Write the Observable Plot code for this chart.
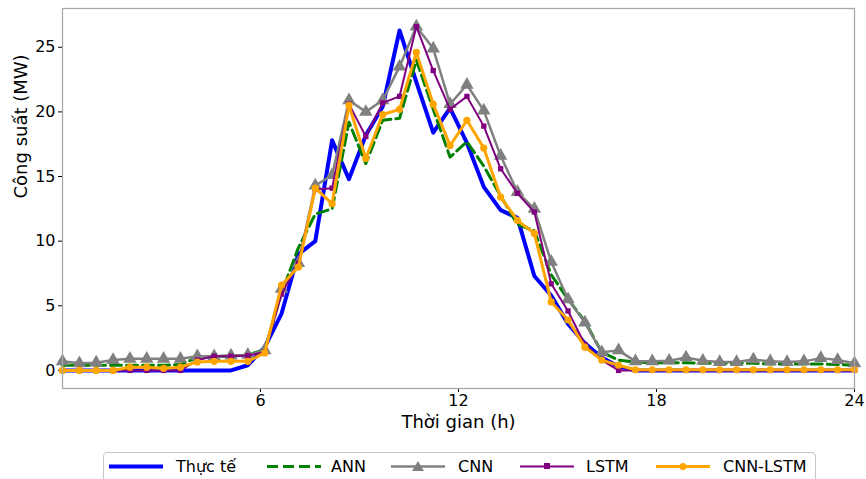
<!DOCTYPE html>
<html><head><meta charset="utf-8">
<script src="https://cdn.jsdelivr.net/npm/d3@7"></script>
<script src="https://cdn.jsdelivr.net/npm/@observablehq/plot@0.6"></script>
<style>
html,body{margin:0;padding:0;background:#fff}
body{font-family:"DejaVu Sans",sans-serif;overflow:hidden;width:866px;height:479px;position:relative}
#title{position:absolute;left:166px;top:-20px;font-size:18px;line-height:18px;white-space:nowrap;color:#000}
#chart{position:absolute;left:0;top:0}
#legend{position:absolute;left:103px;top:452px;width:713px;height:44px;border:1px solid #c8c8c8;border-radius:4px;box-sizing:border-box;font-size:16px;background:#fff}
#legend .h{position:absolute;top:3px}
#legend .t{position:absolute;top:4px;line-height:20px;color:#000}
</style></head>
<body>
<div id="title">Công suất trung bình dự báo</div>
<div id="chart"></div>
<div id="legend"></div>
<script>
const hours = [0,0.511,1.021,1.532,2.043,2.553,3.064,3.574,4.085,4.596,5.106,5.617,6.128,6.638,7.149,7.660,8.170,8.681,9.191,9.702,10.213,10.723,11.234,11.745,12.255,12.766,13.277,13.787,14.298,14.809,15.319,15.830,16.340,16.851,17.362,17.872,18.383,18.894,19.404,19.915,20.426,20.936,21.447,21.957,22.468,22.979,23.489,24];
const actual = [0,0,0,0,0,0,0,0,0,0,0,0.4,1.8,4.4,9.0,10.0,17.8,14.8,18.2,20.4,26.3,22.3,18.4,20.3,17.6,14.2,12.4,11.8,7.3,5.8,3.6,2.1,1.0,0.3,0,0,0,0,0,0,0,0,0,0,0,0,0,0];
const ann = [0.4,0.4,0.4,0.4,0.4,0.4,0.4,0.45,1.0,1.1,1.1,1.2,1.6,6.0,9.5,12.1,12.5,19.2,16.0,19.35,19.5,24.0,20.2,16.5,17.7,15.8,13.5,11.3,10.8,7.4,5.5,3.8,1.4,0.8,0.65,0.6,0.6,0.6,0.55,0.55,0.55,0.55,0.5,0.5,0.5,0.5,0.45,0.4];
const cnn = [0.7,0.55,0.6,0.8,0.9,0.9,0.9,0.9,1.1,1.1,1.15,1.2,1.55,6.3,8.3,14.3,15.1,20.9,20.0,20.9,23.5,26.6,24.9,20.6,22.1,20.1,16.6,13.8,12.5,8.4,5.5,3.7,1.4,1.55,0.7,0.7,0.75,1.0,0.75,0.65,0.65,0.85,0.7,0.65,0.7,0.95,0.8,0.55];
const lstm = [0,0,0,0,0,0,0,0,0.8,1.1,1.1,1.15,1.4,5.9,8.3,14.0,14.1,20.6,18.1,20.7,21.2,26.6,23.2,20.2,21.2,18.9,15.6,13.7,12.25,6.7,4.6,2.0,0.8,0,0,0,0,0,0,0,0,0,0,0,0,0,0,0];
const cnnLstm = [0,0,0,0,0.25,0.25,0.15,0.25,0.65,0.7,0.7,0.7,1.35,6.6,8.0,14.1,12.9,20.5,16.4,19.8,20.2,24.6,20.6,17.4,19.35,17.2,13.4,11.6,10.6,5.3,3.9,1.8,0.8,0.4,0.05,0.05,0.05,0.05,0.05,0.05,0.05,0.05,0.05,0.05,0.05,0.05,0.05,0.05];
const xTicks = [6,12,18,24];
const yTicks = [0,5,10,15,20,25];
const seriesNames = ["Thực tế","ANN","CNN","LSTM","CNN-LSTM"];
const seriesColors = ["#0000ff","#008000","#808080","#800080","#ffa500"];
const xLabel = "Thời gian (h)";
const yLabel = "Công suất (MW)";

const rows = arr => hours.map((h,i)=>({h, v:arr[i]}));

const chart = Plot.plot({
  width:866, height:448,
  marginLeft:62, marginRight:12, marginTop:8, marginBottom:60,
  style:{fontFamily:"DejaVu Sans", fontSize:"16px", background:"transparent", color:"#000"},
  x:{domain:[0,24]},
  y:{domain:[-1.4,28]},
  marks:[
    Plot.axisX({ticks:xTicks, tickSize:4, tickPadding:2, fontSize:16, label:null}),
    Plot.axisY({ticks:yTicks, tickSize:4, tickPadding:3, fontSize:16, label:null}),
    Plot.text([xLabel], {frameAnchor:"bottom", dy:39, fontSize:18, text:d=>d}),
    Plot.text([yLabel], {frameAnchor:"left", dx:-41, rotate:-90, fontSize:18, text:d=>d}),
    Plot.line(rows(actual), {x:"h", y:"v", stroke:seriesColors[0], strokeWidth:4}),
    Plot.line(rows(ann), {x:"h", y:"v", stroke:seriesColors[1], strokeWidth:3, strokeDasharray:"11,5"}),
    Plot.line(rows(cnn), {x:"h", y:"v", stroke:seriesColors[2], strokeWidth:2.5}),
    Plot.dot(rows(cnn), {x:"h", y:"v", symbol:"triangle", fill:seriesColors[2], r:5}),
    Plot.line(rows(lstm), {x:"h", y:"v", stroke:seriesColors[3], strokeWidth:2}),
    Plot.dot(rows(lstm), {x:"h", y:"v", symbol:"square", fill:seriesColors[3], r:3}),
    Plot.line(rows(cnnLstm), {x:"h", y:"v", stroke:seriesColors[4], strokeWidth:3}),
    Plot.dot(rows(cnnLstm), {x:"h", y:"v", symbol:"circle", fill:seriesColors[4], r:3.6}),
    Plot.frame({stroke:"#a8a8a8", strokeWidth:1.3})
  ]
});
document.getElementById("chart").appendChild(chart);

// legend
const leg = document.getElementById("legend");
const handleLeft = [5, 163, 287, 416, 552];
const textLeft = [72, 227, 354, 482, 619];
const markers = [null, null, "tri", "sq", "dot"];
seriesNames.forEach((name,i)=>{
  const c = seriesColors[i];
  let mk = "";
  if (markers[i]==="tri") mk = `<path d="M27,5 L33,15 L21,15 Z" fill="${c}"/>`;
  if (markers[i]==="sq") mk = `<rect x="24" y="7" width="6" height="6" fill="${c}"/>`;
  if (markers[i]==="dot") mk = `<circle cx="27" cy="10.5" r="3.6" fill="${c}"/>`;
  const sw = [4,3,2.5,2,3][i];
  const dash = i===1 ? ' stroke-dasharray="11,5"' : '';
  const h = document.createElement("div");
  h.className="h"; h.style.left = handleLeft[i]+"px";
  h.innerHTML = `<svg width="54" height="20"><line x1="0" y1="10.5" x2="54" y2="10.5" stroke="${c}" stroke-width="${sw}"${dash}/>${mk}</svg>`;
  leg.appendChild(h);
  const t = document.createElement("div");
  t.className="t"; t.style.left = textLeft[i]+"px"; t.textContent = name;
  leg.appendChild(t);
});
</script>
</body></html>
